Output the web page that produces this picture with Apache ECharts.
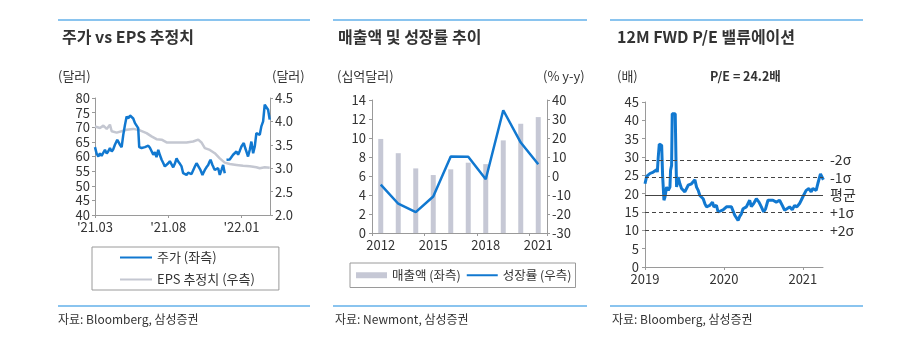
<!DOCTYPE html>
<html><head><meta charset="utf-8">
<script src="https://cdn.jsdelivr.net/npm/echarts@6/dist/echarts.min.js"></script>
<style>html,body{margin:0;padding:0;background:#fff}#c{width:900px;height:341px}</style>
</head><body><div id="c"></div>
<script>
const FONT = '"Noto Sans CJK KR", "Noto Sans", sans-serif';
const BLUE = '#1178d0';
const GRAYLINE = '#c4c7d1';
const AXIS = '#9a9a9a';
const TXT = '#333';

// ---- Panel 1: 주가 vs EPS 추정치 (x = months since 2021-03) ----
const p1TickValues = [0, 5, 10];
const p1TickLabels = ["'21.03", "'21.08", "'22.01"];
const priceMonths = [0,0.11,0.23,0.34,0.45,0.57,0.68,0.8,0.91,1.02,1.14,1.25,1.36,1.52,1.6,1.7,1.82,1.93,2.05,2.16,2.27,2.39,2.5,2.61,2.73,2.84,2.95,3.02,3.18,3.3,3.41,3.52,3.64,3.75,3.86,3.98,4.09,4.2,4.32,4.43,4.55,4.66,4.77,4.89,5.0,5.11,5.23,5.34,5.45,5.57,5.68,5.8,5.91,6.02,6.14,6.25,6.36,6.48,6.59,6.7,6.82,6.93,7.02,7.11,7.2,7.34,7.41,7.5,7.61,7.73,7.8,7.89,8.02,8.1,8.18,8.3,8.41,8.52,8.64,8.75,8.86,8.92,8.98,9.09,9.2,9.32,9.43,9.55,9.66,9.77,9.89,10.0,10.08,10.16,10.25,10.34,10.45,10.57,10.68,10.8,10.91,11.02,11.14,11.25,11.36,11.48,11.59,11.7,11.82,11.93];
const priceValues = [63.2,61.0,60.0,61.1,60.2,60.6,62.3,61.0,61.8,62.9,61.7,62.5,64.0,65.7,65.0,64.0,63.2,67.4,70.9,73.7,73.0,74.0,73.5,73.0,71.4,71.7,69.7,63.2,62.9,63.5,63.2,62.6,63.7,63.0,62.9,60.6,61.5,59.8,62.3,60.5,58.9,57.8,56.6,57.2,57.7,58.4,58.9,56.3,57.5,59.4,58.3,57.5,56.6,54.3,54.0,53.7,54.5,54.3,54.0,53.7,56.6,57.7,57.0,56.6,55.4,53.7,54.5,55.4,56.3,57.1,58.0,58.9,57.1,56.2,55.4,55.5,56.0,53.7,55.4,57.1,54.3,'-',58.9,59.4,59.0,58.9,60.6,60.0,61.7,60.6,62.0,63.4,64.0,64.6,63.0,61.7,60.0,62.3,65.1,61.1,63.4,68.0,68.6,67.4,70.3,72.0,77.7,77.1,76.0,72.6];
const epsMonths = [0,0.34,0.57,0.8,0.91,1.02,1.14,1.48,1.82,2.16,2.61,3.07,3.52,3.86,4.2,4.55,4.89,5.34,5.8,6.25,6.7,7.05,7.27,7.5,7.84,8.18,8.52,8.86,9.2,9.66,10.11,10.57,11.02,11.25,11.59,11.93];
const epsValues = [3.89,3.86,3.91,3.84,3.82,3.93,3.79,3.76,3.79,3.82,3.84,3.81,3.75,3.68,3.62,3.61,3.55,3.55,3.55,3.55,3.57,3.61,3.55,3.43,3.39,3.32,3.21,3.12,3.09,3.07,3.05,3.04,3.02,3.0,3.02,3.01];

// ---- Panel 2: 매출액 및 성장률 추이 ----
const years = ['2012','2013','2014','2015','2016','2017','2018','2019','2020','2021'];
const revenue = [9.9, 8.4, 6.8, 6.1, 6.7, 7.4, 7.25, 9.75, 11.5, 12.2];
const growth = [-4.5, -14.6, -19.0, -10.8, 10.3, 10.1, -1.7, 34.6, 17.6, 6.2];

// ---- Panel 3: 12M FWD P/E ----
const peTickValues = [2019, 2020, 2021];
const peTimes = [2019.0,2019.021,2019.042,2019.063,2019.084,2019.105,2019.126,2019.147,2019.156,2019.168,2019.181,2019.198,2019.211,2019.223,2019.24,2019.253,2019.274,2019.295,2019.316,2019.324,2019.337,2019.345,2019.366,2019.383,2019.392,2019.4,2019.421,2019.442,2019.463,2019.484,2019.505,2019.526,2019.547,2019.568,2019.589,2019.611,2019.632,2019.653,2019.674,2019.695,2019.716,2019.737,2019.758,2019.779,2019.821,2019.855,2019.872,2019.905,2019.926,2019.947,2019.989,2020.032,2020.053,2020.095,2020.116,2020.137,2020.158,2020.179,2020.2,2020.221,2020.242,2020.284,2020.305,2020.326,2020.347,2020.377,2020.411,2020.444,2020.474,2020.503,2020.528,2020.558,2020.579,2020.621,2020.663,2020.705,2020.739,2020.768,2020.798,2020.832,2020.865,2020.895,2020.924,2020.958,2020.979,2021.008,2021.042,2021.076,2021.105,2021.126,2021.147,2021.168,2021.189,2021.211,2021.223,2021.24,2021.26];
const peValues = [22.7,24.7,25.0,25.5,25.0,25.9,26.4,26.5,25.9,30.0,33.5,33.6,33.2,25.0,18.2,19.1,21.8,20.9,21.8,26.4,27.7,41.8,42.0,41.8,30.0,21.8,24.5,22.7,21.4,21.8,20.5,20.9,22.3,21.8,22.7,23.2,23.8,21.8,20.9,19.5,19.1,18.6,17.3,16.4,16.8,17.7,16.4,16.8,15.0,15.5,15.6,16.4,16.8,16.4,15.9,14.1,13.6,12.7,13.8,14.5,15.9,16.4,16.8,18.2,16.5,17.3,18.6,17.7,16.4,15.0,15.9,18.2,18.6,18.2,17.7,18.2,16.8,15.5,15.9,16.4,15.6,16.8,16.4,17.3,18.2,19.5,20.9,21.4,20.5,21.4,21.8,20.9,22.7,23.2,25.4,25.0,23.8];
const sigmaValues = [29.2, 24.4, 19.6, 14.8, 10.0];
const sigmaLabels = ['-2σ', '-1σ', '평균', '+1σ', '+2σ'];

const zip = (xs, ys) => xs.map((x, i) => [x, ys[i]]);
const lbl = (extra) => Object.assign({color: TXT, fontSize: 13, fontFamily: FONT}, extra || {});
const axLine = {show: true, lineStyle: {color: AXIS, width: 1}};
const tick = (extra) => Object.assign({show: true, length: 3, lineStyle: {color: AXIS}}, extra || {});
const noSym = {opacity: 0};

function txt(x, y, s, size, weight, extra) {
  return Object.assign({type: 'text', left: x, top: y, style: {text: s, fill: TXT, font: (weight || 'normal') + ' ' + size + 'px ' + FONT}}, extra || {});
}
function rule(x1, x2, y) {
  return {type: 'line', shape: {x1: x1, y1: y, x2: x2, y2: y}, style: {stroke: '#63b0ea', lineWidth: 1.5}};
}

const chart = echarts.init(document.getElementById('c'), null, {renderer: 'canvas'});
chart.setOption({
  animation: false,
  backgroundColor: '#fff',
  textStyle: {fontFamily: FONT},
  grid: [
    {left: 95, right: 630, top: 98, bottom: 126},
    {left: 372, right: 353, top: 100, bottom: 108},
    {left: 645, right: 77, top: 102, bottom: 74}
  ],
  xAxis: [
    {type: 'value', gridIndex: 0, min: 0, max: 11.95, interval: 5, splitLine: {show: false},
     axisLine: axLine, axisTick: tick({customValues: p1TickValues}),
     axisLabel: lbl({margin: 6, customValues: p1TickValues, formatter: v => { const i = p1TickValues.indexOf(v); return i >= 0 ? p1TickLabels[i] : ''; }})},
    {type: 'category', gridIndex: 1, data: years, boundaryGap: true,
     axisLine: axLine, axisTick: tick({interval: 2}), axisLabel: lbl({interval: 2, margin: 6})},
    {type: 'value', gridIndex: 2, min: 2019, max: 2021.255, interval: 1, splitLine: {show: false},
     axisLine: axLine, axisTick: tick({customValues: peTickValues}),
     axisLabel: lbl({margin: 6, customValues: peTickValues, formatter: v => peTickValues.indexOf(v) >= 0 ? String(v) : ''})}
  ],
  yAxis: [
    {type: 'value', gridIndex: 0, min: 40, max: 80, interval: 5, splitLine: {show: false},
     axisLine: axLine, axisTick: tick(), axisLabel: lbl({margin: 5})},
    {type: 'value', gridIndex: 0, position: 'right', min: 2.0, max: 4.5, interval: 0.5, splitLine: {show: false},
     axisLine: axLine, axisTick: tick(), axisLabel: lbl({margin: 5, formatter: v => v.toFixed(1)})},
    {type: 'value', gridIndex: 1, min: 0, max: 14, interval: 2, splitLine: {show: false},
     axisLine: axLine, axisTick: tick(), axisLabel: lbl({margin: 6})},
    {type: 'value', gridIndex: 1, position: 'right', min: -30, max: 40, interval: 10, splitLine: {show: false},
     axisLine: axLine, axisTick: tick(), axisLabel: lbl({margin: 5})},
    {type: 'value', gridIndex: 2, min: 0, max: 45, interval: 5, splitLine: {show: false},
     axisLine: axLine, axisTick: tick(), axisLabel: lbl({margin: 6})}
  ],
  legend: [
    {left: 92, top: 247, orient: 'vertical',
     data: [{name: '주가 (좌측)', itemStyle: noSym}, {name: 'EPS 추정치 (우측)', itemStyle: noSym}],
     itemWidth: 32, itemHeight: 10, itemGap: 9, borderColor: '#9a9a9a', borderWidth: 1,
     padding: [4, 24, 4, 27], textStyle: lbl()},
    {left: 350, top: 263, orient: 'horizontal',
     data: [{name: '매출액 (좌측)', icon: 'rect'}, {name: '성장률 (우측)', itemStyle: noSym}],
     itemWidth: 31, itemHeight: 6, itemGap: 5, borderColor: '#9a9a9a', borderWidth: 1,
     padding: [6, 4, 6, 6], textStyle: lbl({fontSize: 12.5})}
  ],
  series: [
    {name: 'EPS 추정치 (우측)', type: 'line', xAxisIndex: 0, yAxisIndex: 1, data: zip(epsMonths, epsValues),
     symbol: 'none', lineStyle: {color: GRAYLINE, width: 2.5}, itemStyle: {color: GRAYLINE}},
    {name: '주가 (좌측)', type: 'line', xAxisIndex: 0, yAxisIndex: 0, data: zip(priceMonths, priceValues),
     symbol: 'none', lineStyle: {color: BLUE, width: 2.5}, itemStyle: {color: BLUE}},
    {name: '매출액 (좌측)', type: 'bar', xAxisIndex: 1, yAxisIndex: 2, data: revenue, barWidth: 5,
     itemStyle: {color: '#c6c8d5'}},
    {name: '성장률 (우측)', type: 'line', xAxisIndex: 1, yAxisIndex: 3, data: growth,
     symbol: 'none', lineStyle: {color: BLUE, width: 2.5}, itemStyle: {color: BLUE}},
    {name: 'PE', type: 'line', xAxisIndex: 2, yAxisIndex: 4, data: zip(peTimes, peValues),
     symbol: 'none', lineStyle: {color: BLUE, width: 3}, itemStyle: {color: BLUE}, z: 3,
     markLine: {silent: true, symbol: 'none', animation: false,
       data: sigmaValues.map((v, i) => ({yAxis: v,
         lineStyle: {color: '#444', width: 1, type: i === 2 ? 'solid' : [4, 3]},
         label: {show: true, position: 'end', distance: 7, formatter: sigmaLabels[i], color: TXT, fontSize: 14, fontFamily: FONT}}))}}
  ],
  graphic: [
    rule(58, 310, 20), rule(333, 587, 20), rule(610, 863, 20),
    rule(58, 310, 306), rule(333, 587, 306), rule(610, 863, 306),
    txt(62, 29, '주가 vs EPS 추정치', 16, 'bold'),
    txt(338, 29, '매출액 및 성장률 추이', 16, 'bold'),
    txt(617, 29, '12M FWD P/E 밸류에이션', 16, 'bold'),
    txt(58, 70, '(달러)', 13),
    txt(272, 70, '(달러)', 13),
    txt(337, 70, '(십억달러)', 13),
    txt(543, 70, '(% y-y)', 13),
    txt(617, 70, '(배)', 13),
    txt(710, 70, 'P/E = 24.2배', 12.5, 'bold'),
    txt(58, 313, '자료: Bloomberg, 삼성증권', 12),
    txt(335, 313, '자료: Newmont, 삼성증권', 12),
    txt(612, 313, '자료: Bloomberg, 삼성증권', 12)
  ]
});
</script></body></html>
